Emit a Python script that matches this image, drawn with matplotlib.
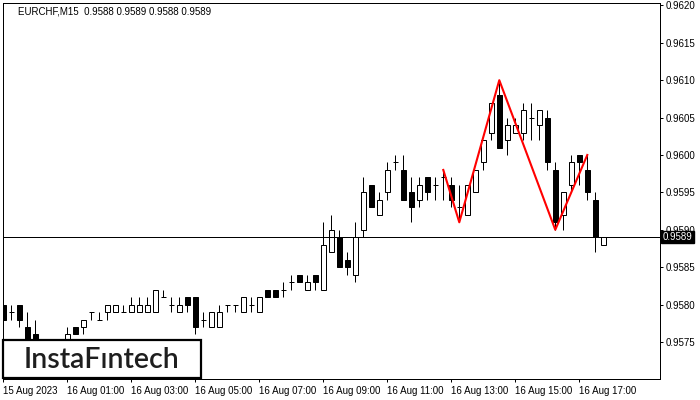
import matplotlib
matplotlib.use("Agg")
import matplotlib.pyplot as plt
import matplotlib.transforms as mtransforms
from matplotlib.patches import Rectangle

plt.rcParams['font.family'] = ['Liberation Sans', 'DejaVu Sans']

# chart header
symbol_line = "EURCHF,M15  0.9588 0.9589 0.9588 0.9589"

# 15-minute candles, 15 Aug 23:00 .. 16 Aug 17:45
opens = [0.9580, 0.9579, 0.9580, 0.9577, 0.9576, 0.9574, 0.9573, 0.9574, 0.9574, 0.9577,
         0.9577, 0.9579, 0.9578, 0.9579, 0.9579, 0.9579, 0.9579, 0.9579, 0.9579, 0.9579,
         0.9581, 0.9580, 0.9579, 0.9581, 0.9581, 0.9578, 0.9577, 0.9577, 0.9580, 0.9580,
         0.9579, 0.9580, 0.9579, 0.9582, 0.9582, 0.9582, 0.9583, 0.9584, 0.9582, 0.9584,
         0.9582, 0.9587, 0.9589, 0.9586, 0.9584, 0.9590, 0.9596, 0.9592, 0.9595, 0.9599,
         0.9598, 0.9595, 0.9594, 0.9597, 0.9596, 0.9597, 0.9596, 0.9593, 0.9592, 0.9595,
         0.9599, 0.9603, 0.9608, 0.9602, 0.9603, 0.9603, 0.9605, 0.9604, 0.9605, 0.9598,
         0.9592, 0.9596, 0.9600, 0.9598, 0.9594, 0.9588]
highs = [0.9580, 0.9580, 0.9580, 0.9579, 0.9578, 0.9574, 0.9574, 0.9575, 0.9577, 0.9577,
         0.9578, 0.9579, 0.9579, 0.9580, 0.9580, 0.9580, 0.9581, 0.9581, 0.9581, 0.9582,
         0.9582, 0.9581, 0.9581, 0.9581, 0.9581, 0.9579, 0.9579, 0.9580, 0.9580, 0.9580,
         0.9581, 0.9581, 0.9581, 0.9582, 0.9582, 0.9583, 0.9584, 0.9584, 0.9584, 0.9584,
         0.9591, 0.9592, 0.9590, 0.9587, 0.9591, 0.9597, 0.9596, 0.9595, 0.9599, 0.9600,
         0.9600, 0.9597, 0.9597, 0.9597, 0.9597, 0.9598, 0.9597, 0.9596, 0.9596, 0.9598,
         0.9602, 0.9607, 0.9610, 0.9605, 0.9605, 0.9607, 0.9607, 0.9606, 0.9606, 0.9599,
         0.9595, 0.9600, 0.9600, 0.9600, 0.9595, 0.9589]
lows = [0.9577, 0.9578, 0.9577, 0.9573, 0.9573, 0.9572, 0.9572, 0.9573, 0.9574, 0.9576,
        0.9576, 0.9578, 0.9578, 0.9578, 0.9579, 0.9579, 0.9579, 0.9579, 0.9579, 0.9579,
        0.9581, 0.9579, 0.9579, 0.9579, 0.9576, 0.9577, 0.9577, 0.9577, 0.9579, 0.9579,
        0.9579, 0.9579, 0.9579, 0.9581, 0.9581, 0.9581, 0.9582, 0.9583, 0.9582, 0.9582,
        0.9582, 0.9587, 0.9585, 0.9584, 0.9583, 0.9589, 0.9593, 0.9592, 0.9594, 0.9598,
        0.9594, 0.9591, 0.9593, 0.9594, 0.9594, 0.9594, 0.9593, 0.9591, 0.9592, 0.9595,
        0.9598, 0.9602, 0.9601, 0.9600, 0.9603, 0.9602, 0.9602, 0.9602, 0.9598, 0.9590,
        0.9590, 0.9595, 0.9596, 0.9594, 0.9587, 0.9588]
closes = [0.9578, 0.9579, 0.9578, 0.9574, 0.9574, 0.9573, 0.9574, 0.9574, 0.9576, 0.9576,
          0.9578, 0.9579, 0.9578, 0.9580, 0.9580, 0.9579, 0.9580, 0.9580, 0.9580, 0.9582,
          0.9581, 0.9580, 0.9580, 0.9580, 0.9577, 0.9578, 0.9579, 0.9579, 0.9580, 0.9580,
          0.9581, 0.9580, 0.9581, 0.9581, 0.9581, 0.9582, 0.9583, 0.9583, 0.9583, 0.9583,
          0.9588, 0.9590, 0.9585, 0.9585, 0.9589, 0.9595, 0.9593, 0.9594, 0.9598, 0.9599,
          0.9594, 0.9593, 0.9596, 0.9595, 0.9596, 0.9597, 0.9594, 0.9593, 0.9596, 0.9598,
          0.9602, 0.9607, 0.9601, 0.9604, 0.9604, 0.9606, 0.9605, 0.9606, 0.9599, 0.9591,
          0.9595, 0.9599, 0.9599, 0.9595, 0.9589, 0.9589]

time_ticks = [0, 8, 16, 24, 32, 40, 48, 56, 64, 72]
time_labels = ["15 Aug 2023", "16 Aug 01:00", "16 Aug 03:00", "16 Aug 05:00",
               "16 Aug 07:00", "16 Aug 09:00", "16 Aug 11:00", "16 Aug 13:00",
               "16 Aug 15:00", "16 Aug 17:00"]
price_ticks = [0.9575, 0.9580, 0.9585, 0.9590, 0.9595, 0.9600, 0.9605, 0.9610, 0.9615, 0.9620]
last_price = 0.9589

# pattern drawn in red (pivot bars / prices)
pattern_bars = [55, 57, 62, 69, 73]
pattern_prices = [0.9598, 0.9591, 0.9610, 0.9590, 0.9600]

px = 0.72  # one pixel in points at dpi 100

fig = plt.figure(figsize=(7, 4), dpi=100)
ax = fig.add_axes([3 / 700, 21 / 400, 657 / 700, 376 / 400])
ax.set_xlim(-0.04, 82.09)
ax.set_ylim(0.957005, 0.962032)

body_w = 0.6
for i, (o, h, l, c) in enumerate(zip(opens, highs, lows, closes)):
    ax.vlines(i, l, h, color='black', lw=px, zorder=2)
    if c > o:
        ax.add_patch(Rectangle((i - body_w / 2, o), body_w, c - o, facecolor='white',
                               edgecolor='black', lw=px, zorder=3))
    elif c < o:
        ax.add_patch(Rectangle((i - body_w / 2, c), body_w, o - c, facecolor='black',
                               edgecolor='black', lw=px, zorder=3))
    else:
        ax.hlines(o, i - body_w / 2, i + body_w / 2, color='black', lw=px, zorder=3)

ax.axhline(last_price, color='black', lw=px, zorder=4)
ax.plot(pattern_bars, pattern_prices, color='#ff0000', lw=1.5, zorder=5)

# axes styling
for s in ax.spines.values():
    s.set_linewidth(px)
ax.yaxis.tick_right()
ax.set_yticks(price_ticks)
ax.set_yticklabels([f"{p:.4f}" for p in price_ticks])
ax.set_xticks(time_ticks)
ax.set_xticklabels(time_labels, ha='left')
ax.tick_params(axis='both', direction='out', length=2.5, width=px, labelsize=7, pad=1.5)
ax.tick_params(axis='x', pad=2.5)

# last price tag on the price scale (covers the 0.9590 label, as on the terminal)
trans = mtransforms.blended_transform_factory(ax.transAxes, ax.transData)
ax.text(1.004, last_price, f"{last_price:.4f}", transform=trans, color='white', fontsize=7,
        va='center', ha='left', clip_on=False, zorder=10,
        bbox=dict(boxstyle='square,pad=0.12', facecolor='black', edgecolor='black'))

fig.text(18 / 700, 1 - 11 / 400, symbol_line, fontsize=7, va='center', ha='left')

# logo box
logo = Rectangle((3 / 700, 1 - 378 / 400), 198 / 700, 38 / 400, transform=fig.transFigure,
                 facecolor='white', edgecolor='black', lw=1.6, zorder=20)
fig.add_artist(logo)
fig.text(102 / 700, 1 - 359.5 / 400, "InstaF\u0131ntech", fontsize=20.5, color='#1e1e1e',
         family=['Lato', 'DejaVu Sans'], fontweight='semibold', va='center', ha='center',
         zorder=21)

fig.savefig("out.png", dpi=100)
